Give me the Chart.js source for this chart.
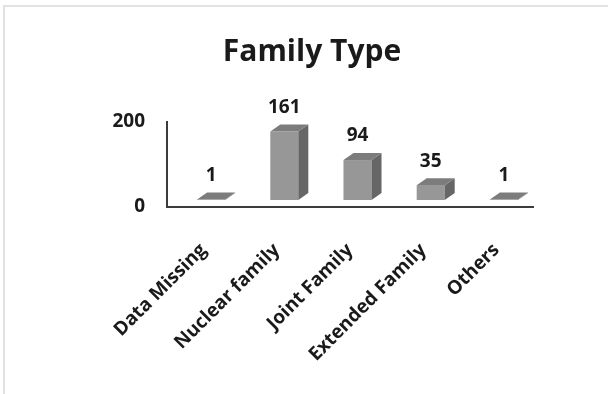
<!DOCTYPE html>
<html>
<head>
<meta charset="utf-8">
<script src="https://cdn.jsdelivr.net/npm/chart.js@4.4.1/dist/chart.umd.min.js"></script>
<style>
  html, body { margin: 0; padding: 0; background: #ffffff; }
  body { width: 608px; height: 394px; position: relative; overflow: hidden; }
  #frame { position: absolute; left: 3px; top: 5px; width: 700px; height: 500px;
           border: 2px solid #e2e2e2; }
  #wrap { position: absolute; left: 0; top: 0; width: 608px; height: 394px; }
</style>
</head>
<body>
<div id="frame"></div>
<div id="wrap"><canvas id="chart" width="608" height="394"></canvas></div>
<script>
// Family type counts
const categories = ['Data Missing', 'Nuclear family', 'Joint Family', 'Extended Family', 'Others'];
const counts = [1, 161, 94, 35, 1];
const yTicks = [0, 200];

// Colours of the three visible faces of each box
const FRONT = '#979797';
const SIDE = '#666666';
const TOP = '#7c7c7c';

// Boxes sit a little behind the axes; depth gives the side and top faces
const shift = { x: 7.5, y: -7 };
const depth = { x: 10, y: -7 };

const boxes3d = {
  id: 'boxes3d',
  afterDatasetsDraw(chart) {
    const ctx = chart.ctx;
    const meta = chart.getDatasetMeta(0);
    const values = chart.data.datasets[0].data;
    meta.data.forEach((bar, i) => {
      const p = bar.getProps(['x', 'y', 'base', 'width'], true);
      const l = p.x - p.width / 2 + shift.x;
      const r = p.x + p.width / 2 + shift.x;
      const t = p.y + shift.y;
      const b = p.base + shift.y;
      ctx.save();
      // front
      ctx.fillStyle = FRONT;
      ctx.fillRect(l, t, r - l, b - t);
      // side
      ctx.fillStyle = SIDE;
      ctx.beginPath();
      ctx.moveTo(r, t);
      ctx.lineTo(r + depth.x, t + depth.y);
      ctx.lineTo(r + depth.x, b + depth.y);
      ctx.lineTo(r, b);
      ctx.closePath();
      ctx.fill();
      // top
      ctx.fillStyle = TOP;
      ctx.beginPath();
      ctx.moveTo(l, t);
      ctx.lineTo(r, t);
      ctx.lineTo(r + depth.x, t + depth.y);
      ctx.lineTo(l + depth.x, t + depth.y);
      ctx.closePath();
      ctx.fill();
      // value label
      ctx.fillStyle = '#1a1a1a';
      ctx.font = 'bold 19px "Open Sans", sans-serif';
      ctx.textAlign = 'center';
      ctx.textBaseline = 'middle';
      ctx.fillText(String(values[i]), (l + r) / 2, t + depth.y - 17);
      ctx.restore();
    });
  }
};

new Chart(document.getElementById('chart'), {
  type: 'bar',
  data: {
    labels: categories,
    datasets: [{
      data: counts,
      backgroundColor: 'rgba(0,0,0,0)',
      borderWidth: 0,
      barPercentage: 0.383,
      categoryPercentage: 1
    }]
  },
  options: {
    responsive: false,
    animation: false,
    devicePixelRatio: 1,
    layout: { padding: { left: 91, right: 75, top: 0, bottom: 0 } },
    plugins: {
      legend: { display: false },
      tooltip: { enabled: false },
      title: {
        display: true,
        text: 'Family Type',
        color: '#1a1a1a',
        font: { family: '"Open Sans", sans-serif', size: 30, weight: 'bold', lineHeight: 1.2 },
        padding: { top: 34, bottom: 52 }
      }
    },
    scales: {
      x: {
        grid: { display: false, drawTicks: false },
        border: { display: true, color: '#3c3c3c', width: 2 },
        ticks: {
          color: '#1a1a1a',
          font: { family: '"Open Sans", sans-serif', size: 19, weight: 'bold' },
          minRotation: 45,
          maxRotation: 45,
          autoSkip: false,
          padding: 32
        },
        afterFit(scale) { scale.height = 187; }
      },
      y: {
        min: yTicks[0],
        max: yTicks[yTicks.length - 1],
        afterBuildTicks(scale) { scale.ticks = yTicks.map(v => ({ value: v })); },
        grid: { display: false, drawTicks: false },
        border: { display: true, color: '#3c3c3c', width: 2 },
        ticks: {
          color: '#1a1a1a',
          font: { family: '"Open Sans", sans-serif', size: 19, weight: 'bold' },
          padding: 22
        },
        afterFit(scale) { scale.width = 76; }
      }
    }
  },
  plugins: [boxes3d]
});
</script>
</body>
</html>
